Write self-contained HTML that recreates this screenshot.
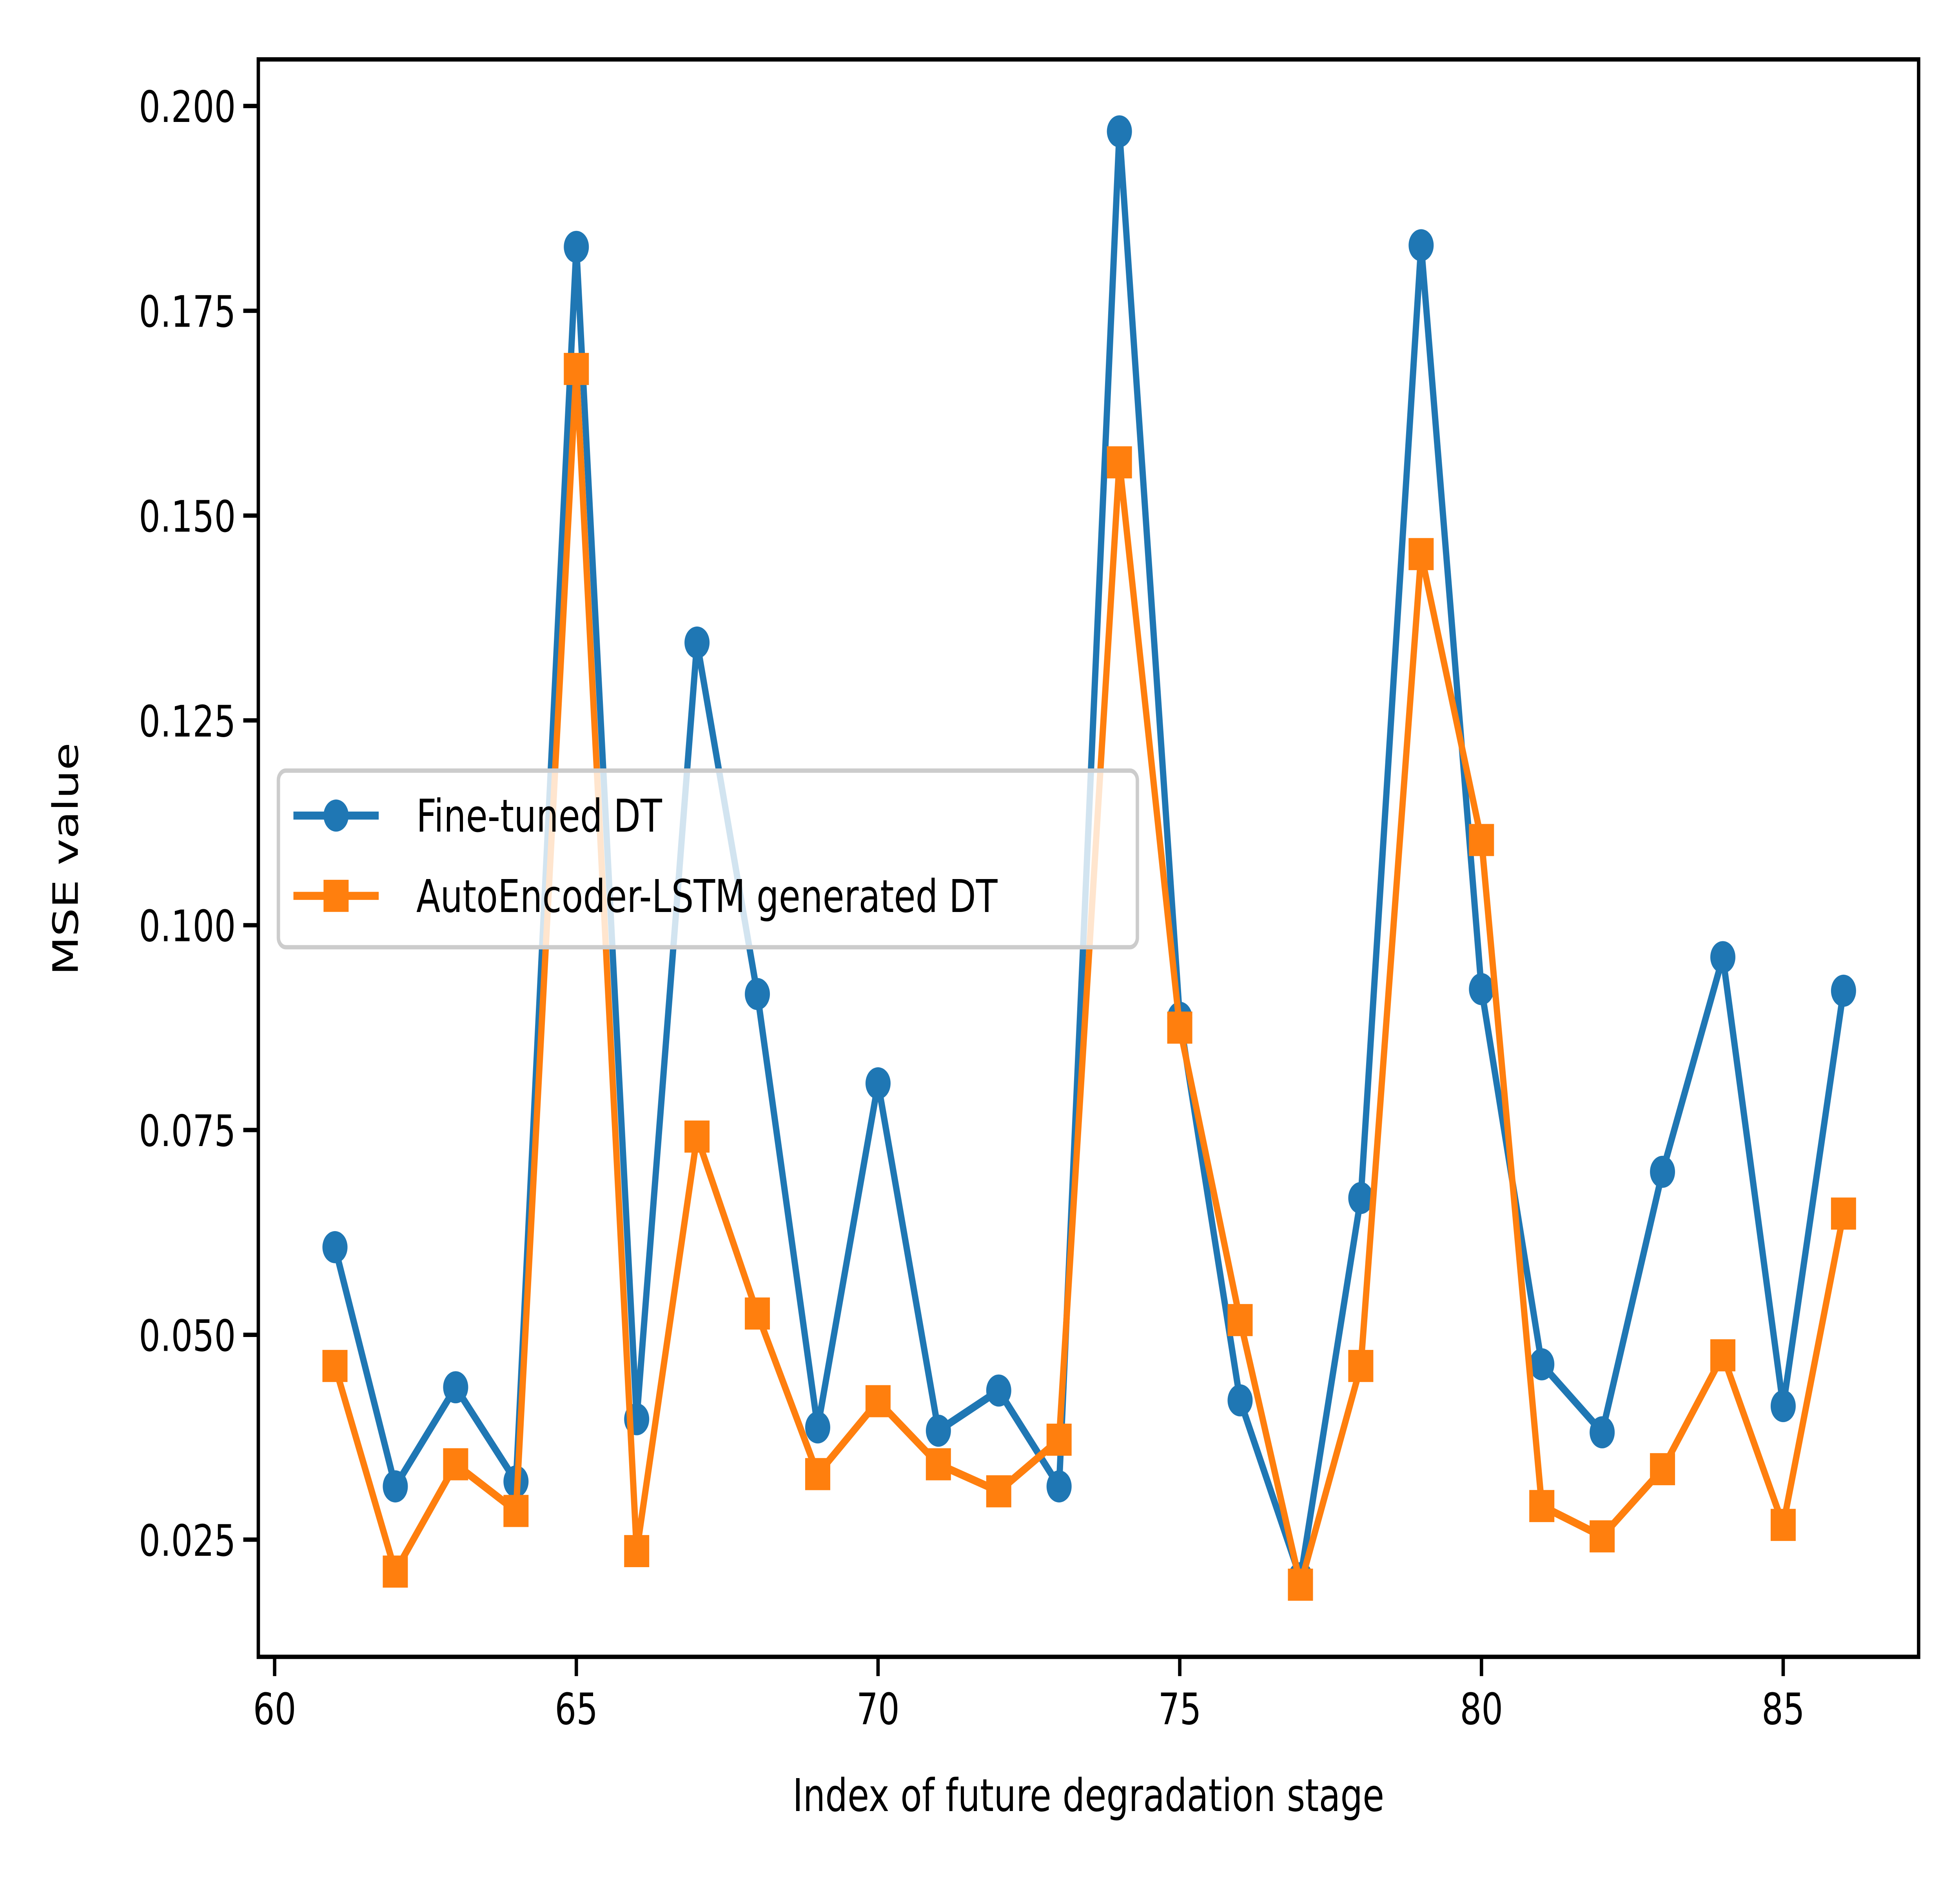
<!DOCTYPE html>
<html><head><meta charset="utf-8"><style>
html,body{margin:0;padding:0;background:#fff;overflow:hidden;width:100vw;height:100vh;}
svg{display:block;width:100vw;height:100vh;}
text{font-family:"DejaVu Sans","Liberation Sans",sans-serif;fill:#000;}
</style></head><body>
<svg id="chart" viewBox="0 0 1563 1172.25" preserveAspectRatio="none" xmlns="http://www.w3.org/2000/svg">
<rect width="1563" height="1172.25" fill="#fff"/>
<g id="plot"></g>
</svg>
<script>
const stages = [61,62,63,64,65,66,67,68,69,70,71,72,73,74,75,76,77,78,79,80,81,82,83,84,85,86];
const fineTuned = [0.0607,0.0315,0.0436,0.0321,0.1828,0.0397,0.1345,0.0916,0.0387,0.0807,0.0383,0.0432,0.0315,0.1969,0.0887,0.0420,0.0203,0.0667,0.1830,0.0922,0.0464,0.0381,0.0699,0.0961,0.0413,0.0920];
const aeLstm = [0.0462,0.0211,0.0342,0.0285,0.1679,0.0236,0.0742,0.0526,0.0330,0.0419,0.0342,0.0309,0.0372,0.1565,0.0875,0.0518,0.0195,0.0462,0.1453,0.1104,0.0291,0.0254,0.0336,0.0475,0.0268,0.0648];
const xTicks = [60,65,70,75,80,85];
const yTicks = [0.025,0.050,0.075,0.100,0.125,0.150,0.175,0.200];
const yTickLabels = ["0.025","0.050","0.075","0.100","0.125","0.150","0.175","0.200"];

const NS="http://www.w3.org/2000/svg";
const g=document.getElementById('plot');
const L=206,R=1530,T=37,B=1032;
function xs(v){return 219+(v-60)*48.12;}
function ys(v){return 959-(v-0.025)/0.025*127.57;}
function mk(tag,attrs){const e=document.createElementNS(NS,tag);for(const k in attrs)e.setAttribute(k,attrs[k]);g.appendChild(e);return e;}

xTicks.forEach(t=>{
  const l=mk('line',{x1:xs(t),x2:xs(t),y1:B,y2:B+12,stroke:'#000','stroke-width':2.7});
  
  
  const tx=mk('text',{x:xs(t),y:B+42,'font-size':27,'text-anchor':'middle'});
  tx.textContent=t;
  
  
});
yTicks.forEach((t,i)=>{
  const l=mk('line',{x1:L-12,x2:L,y1:ys(t),y2:ys(t),stroke:'#000','stroke-width':2.7});
  
  
  const tx=mk('text',{x:L-18,y:ys(t)+10,'font-size':27,'text-anchor':'end'});
  tx.textContent=yTickLabels[i];
  
  
});

function series(vals,color,shape,name){
  const pts=stages.map((s,i)=>xs(s)+','+ys(vals[i])).join(' ');
  const pl=mk('polyline',{points:pts,fill:'none',stroke:color,'stroke-width':5,'stroke-linejoin':'round'});
  
  
  stages.forEach((s,i)=>{
    let m;
    if(shape==='circle') m=mk('circle',{cx:xs(s),cy:ys(vals[i]),r:10,fill:color});
    else m=mk('rect',{x:xs(s)-10,y:ys(vals[i])-10,width:20,height:20,fill:color});
    
    
  });
}
series(fineTuned,'#1f77b4','circle','fine-tuned-dt');
series(aeLstm,'#ff7f0e','square','autoencoder-lstm-dt');

const fr=mk('rect',{x:L,y:T,width:R-L,height:B-T,fill:'none',stroke:'#000','stroke-width':2.7});



const lg=mk('rect',{x:222,y:480,width:685,height:110,rx:6,fill:'#fff','fill-opacity':0.8,stroke:'#ccc','stroke-width':2.7});


[['#1f77b4','circle','Fine-tuned DT',508],['#ff7f0e','square','AutoEncoder-LSTM generated DT',558]].forEach(e=>{
  const ln=mk('line',{x1:234,x2:302,y1:e[3],y2:e[3],stroke:e[0],'stroke-width':5});
  
  
  let m;
  if(e[1]==='circle') m=mk('circle',{cx:268,cy:e[3],r:10,fill:e[0]});
  else m=mk('rect',{x:258,y:e[3]-10,width:20,height:20,fill:e[0]});
  
  
  const t=mk('text',{x:332,y:e[3]+10,'font-size':28});
  t.textContent=e[2];
  
  
});

const xt=mk('text',{x:868,y:1128,'font-size':28,'text-anchor':'middle'});
xt.textContent='Index of future degradation stage';


const yt=mk('text',{x:0,y:0,'font-size':28,'text-anchor':'middle',transform:'translate(62,535) rotate(-90)'});
yt.textContent='MSE value';


</script>
</body></html>
